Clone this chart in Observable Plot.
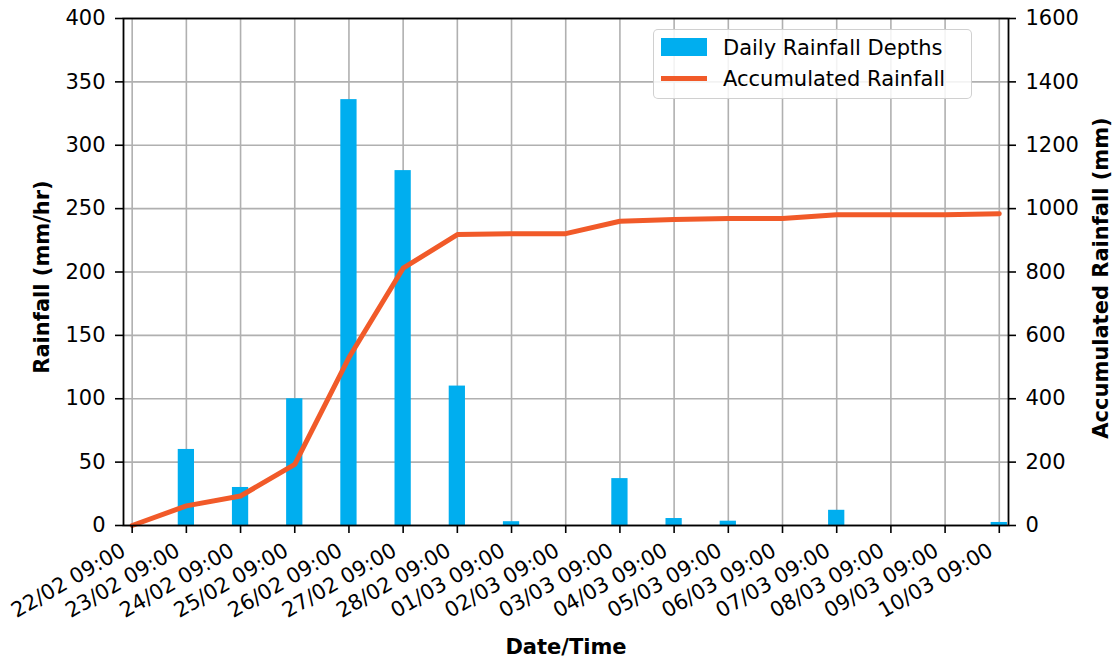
<!DOCTYPE html>
<html><head><meta charset="utf-8">
<script src="https://cdn.jsdelivr.net/npm/d3@7"></script>
<script src="https://cdn.jsdelivr.net/npm/@observablehq/plot@0.6"></script>
<style>
html,body{margin:0;padding:0;background:#fff;}
#wrap{position:relative;width:1118px;height:661px;font-family:"DejaVu Sans",sans-serif;}
#wrap svg{display:block;}
.legend{position:absolute;left:653px;top:29px;width:319px;height:70px;border:1.5px solid rgba(200,200,200,0.85);border-radius:5px;background:rgba(255,255,255,0.85);box-sizing:border-box;}
.lg{position:absolute;font-size:21px;line-height:normal;white-space:nowrap;color:#000;}
</style></head><body><div id="wrap"></div>
<script>
const dateLabels = ["22/02 09:00","23/02 09:00","24/02 09:00","25/02 09:00","26/02 09:00","27/02 09:00","28/02 09:00","01/03 09:00","02/03 09:00","03/03 09:00","04/03 09:00","05/03 09:00","06/03 09:00","07/03 09:00","08/03 09:00","09/03 09:00","10/03 09:00"];
const dailyRainfall = [0,60,30,100,336,280,110,3,0,37,5.5,3.4,0,12,0,0,2.4];
const accumulatedRainfall = [0,62,93,193,530,812,918,921,921,960,966,969,969,981,981,981,984];
const leftTicks = [0,50,100,150,200,250,300,350,400];
const rightTicks = [0,200,400,600,800,1000,1200,1400,1600];

const ratio = 400/1600;
const barHalf = 0.15;
const BAR = "#00aeef", LINE = "#f15a29";
const FS = 21;
const data = dateLabels.map((label,i)=>({i,label,rain:dailyRainfall[i],acc:accumulatedRainfall[i]}));
const idx = data.map(d=>d.i);

const chart = Plot.plot({
  width:1118, height:661,
  marginLeft:123, marginRight:110, marginTop:18, marginBottom:136,
  style:{fontFamily:"DejaVu Sans", fontSize:FS+"px", color:"#000", background:"#fff", overflow:"visible"},
  x:{domain:[-0.16,16.17]},
  y:{domain:[0,400]},
  marks:[
    Plot.gridX(idx,{stroke:"#b0b0b0",strokeOpacity:1,strokeWidth:1.6}),
    Plot.gridY(leftTicks,{stroke:"#b0b0b0",strokeOpacity:1,strokeWidth:1.6}),
    Plot.rectY(data.filter(d=>d.rain>0),{x1:d=>d.i-barHalf,x2:d=>d.i+barHalf,y1:0,y2:"rain",fill:BAR}),
    Plot.line(data,{x:"i",y:d=>d.acc*ratio,stroke:LINE,strokeWidth:5}),
    Plot.frame({stroke:"#000",strokeWidth:1.8}),
    Plot.axisY(leftTicks,{anchor:"left",tickSize:8,tickPadding:10,strokeWidth:1.6,fontSize:FS,label:null}),
    Plot.axisY(rightTicks.map(v=>v*ratio),{anchor:"right",tickSize:7,tickPadding:10,strokeWidth:1.6,fontSize:FS,tickFormat:d=>String(Math.round(d/ratio)),label:null}),
    Plot.axisX(idx,{anchor:"bottom",tickSize:8,strokeWidth:1.6,tickFormat:()=>"",label:null}),
    Plot.text(data,{x:"i",text:"label",frameAnchor:"bottom",rotate:-30,textAnchor:"end",dx:-5,dy:29,fontSize:FS}),
    Plot.text(["Rainfall (mm/hr)"],{text:d=>d,frameAnchor:"left",textAnchor:"middle",rotate:-90,dx:-81,dy:5,fontWeight:"bold",fontSize:FS}),
    Plot.text(["Accumulated Rainfall (mm)"],{text:d=>d,frameAnchor:"right",textAnchor:"middle",rotate:-90,dx:93,dy:6,fontWeight:"bold",fontSize:FS}),
    Plot.text(["Date/Time"],{text:d=>d,frameAnchor:"bottom",textAnchor:"middle",dy:128,fontWeight:"bold",fontSize:FS})
  ]
});
const wrap = document.getElementById("wrap");
wrap.appendChild(chart);
const lg = document.createElement("div");
lg.className = "legend";
wrap.appendChild(lg);
const items = [
  {label:"Daily Rainfall Depths", type:"bar", top:35.5},
  {label:"Accumulated Rainfall", type:"line", top:66.5}
];
items.forEach(it=>{
  const sw = document.createElement("div");
  sw.style.position="absolute";
  sw.style.left="661px";
  sw.style.width="46px";
  if(it.type==="bar"){sw.style.top="38px";sw.style.height="18px";sw.style.background=BAR;}
  else{sw.style.top="75.5px";sw.style.height="5px";sw.style.background=LINE;}
  wrap.appendChild(sw);
  const t = document.createElement("div");
  t.className="lg";
  t.style.left="723px";
  t.style.top=it.top+"px";
  t.textContent=it.label;
  wrap.appendChild(t);
});
</script></body></html>
